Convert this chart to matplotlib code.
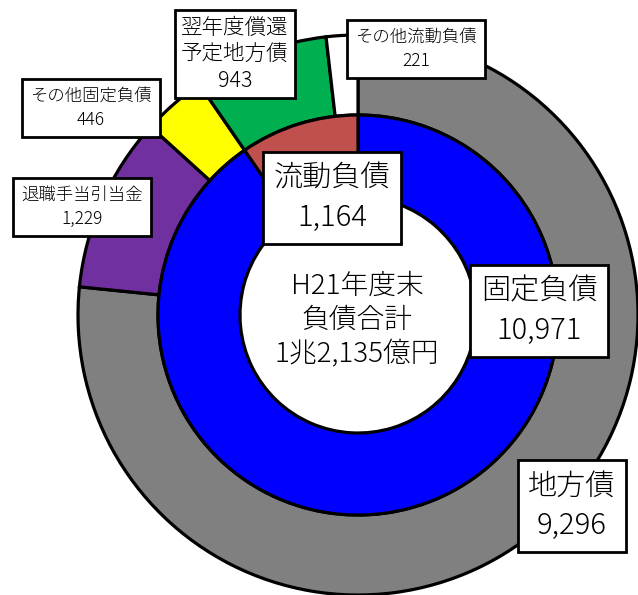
import matplotlib.pyplot as plt

plt.rcParams['font.family'] = ['Noto Sans CJK JP', 'DejaVu Sans']

# inner ring: 固定負債 / 流動負債
inner_labels = ['固定負債', '流動負債']
inner_values = [10971, 1164]
inner_colors = ['#0000FF', '#C0504D']

# outer ring: breakdown
outer_labels = ['地方債', '退職手当引当金', 'その他固定負債', '翌年度償還\n予定地方債', 'その他流動負債']
outer_values = [9296, 1229, 446, 943, 221]
outer_colors = ['#808080', '#7030A0', '#FFFF00', '#00B050', '#FFFFFF']

center_text = 'H21年度末\n負債合計\n1兆2,135億円'

W, H = 638, 595
fig = plt.figure(figsize=(W / 100, H / 100), dpi=100)
ax = fig.add_axes([0, 0, 1, 1])

cx, cy = 358, 280
wp = dict(edgecolor='black', linewidth=2.3)

ax.pie(outer_values, radius=280, center=(cx, cy), startangle=90, counterclock=False,
       colors=outer_colors, wedgeprops=dict(width=80, **wp))
ax.pie(inner_values, radius=200, center=(cx, cy), startangle=90, counterclock=False,
       colors=inner_colors, wedgeprops=dict(width=82, **wp))

ax.set_xlim(0, W)
ax.set_ylim(0, H)
ax.set_aspect('equal')
ax.axis('off')


def fmt(v):
    return '{:,}'.format(v)


def box(x, y, s, size, ls, pad):
    ax.text(x, y, s, ha='center', va='center', fontsize=size, linespacing=ls,
            fontweight='light',
            bbox=dict(boxstyle='square,pad=%s' % pad, facecolor='white',
                      edgecolor='black', linewidth=2))


# big labels
box(332, 397, inner_labels[1] + '\n' + fmt(inner_values[1]), 21, 1.4, 0.36)
box(539, 284, inner_labels[0] + '\n' + fmt(inner_values[0]), 21, 1.4, 0.36)
box(572, 89, outer_labels[0] + '\n' + fmt(outer_values[0]), 21, 1.4, 0.36)

# small labels
box(82, 388, outer_labels[1] + '\n' + fmt(outer_values[1]), 12.5, 1.45, 0.45)
box(91, 487, outer_labels[2] + '\n' + fmt(outer_values[2]), 12.5, 1.45, 0.45)
box(235, 541, outer_labels[3] + '\n' + fmt(outer_values[3]), 15.5, 1.27, 0.3)
box(416, 546, outer_labels[4] + '\n' + fmt(outer_values[4]), 12.5, 1.45, 0.45)

ax.text(357, 275, center_text, ha='center', va='center', fontsize=20, linespacing=1.3,
        fontweight='light')

fig.savefig('out.png', dpi=100)
